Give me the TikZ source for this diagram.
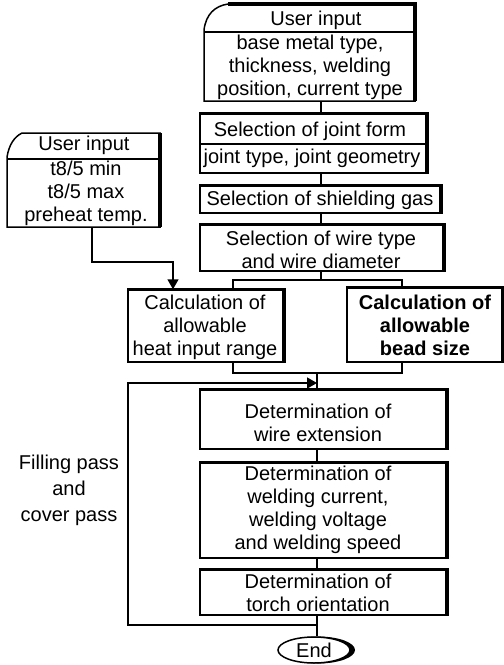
\documentclass[tikz,border=0pt]{standalone}
\usepackage{fontspec}
\setmainfont{Liberation Sans}
\usetikzlibrary{arrows.meta,shapes.geometric}
\begin{document}
\begin{tikzpicture}[x=1pt,y=-1pt,
  txt/.style={font=\fontsize{20}{23}\selectfont, align=center, inner sep=0pt},
  btxt/.style={txt, font=\fontsize{20}{23}\selectfont\bfseries},
  box/.style={draw, line width=1.5pt, inner sep=0pt, minimum width=#1},
  hole/.style={inner sep=0pt, minimum width=#1},
  thk/.style={line width=3.5pt},
  ln/.style={line width=1.5pt},
  arr/.style={ln, -{Triangle[length=10pt,width=11pt]}}]
\useasboundingbox (0,0) rectangle (504,665);
% spines
\coordinate (sp) at (321,0);
\coordinate (sp2) at (317,0);
\coordinate (xL) at (233,0);
\coordinate (xR) at (402,0);
\coordinate (xA) at (92,0);
\coordinate (xB) at (173,0);
% top user input box
\node[hole=211, minimum height=97] (b1) at (309.5,52.5) {};
\draw[ln] (204,101) -- (204,30) .. controls (206,14) and (215,6) .. (228,4) -- (415,4) -- (415,101) -- cycle;
\draw[ln] (204,32) -- (415,32);
\draw[thk] (228,4) -- (415,4) -- (415,101);
\node[txt] (t1h) at (316,20) {User input};
\node[txt] (t1) at (310,67) {base metal type,\\thickness, welding\\position, current type};
% joint form
\node[box=226, minimum height=59] (b2) at (313,143.5) {};
\draw[ln] (b2.west |- 0,144) -- (b2.east |- 0,144);
\node[txt] (t2h) at (310,131) {Selection of joint form};
\node[txt] (t2) at (312,158) {joint type, joint geometry};
% shielding gas
\node[box=240, minimum height=27] (b3) at (320,199.5) {};
\node[txt] (t3) at (320,200) {Selection of shielding gas};
% wire type
\node[box=243, minimum height=46] (b4) at (321.5,248) {};
\node[txt] (t4) at (321,250) {Selection of wire type\\and wire diameter};
% left user input
\node[hole=153, minimum height=94] (L) at (83.5,180) {};
\draw[ln] (7,227) -- (7,157) .. controls (9,145) and (14,137) .. (22,133) -- (160,133) -- (160,227) -- cycle;
\draw[ln] (7,159) -- (160,159);
\draw[thk] (160,133) -- (160,227);
\node[txt] (tLh) at (84,145) {User input};
\node[txt] (tL) at (86,193) {t8/5 min\\t8/5 max\\preheat temp.};
% calculation boxes
\node[box=155, minimum height=72] (cL) at (205.5,326) {};
\node[txt] (tcL) at (205,327) {Calculation of\\allowable\\heat input range};
\node[box=155, minimum height=74] (cR) at (424.5,325) {};
\node[btxt] (tcR) at (425,325) {Calculation of\\allowable\\bead size};
% lower boxes
\node[box=246, minimum height=59] (w) at (323,419.5) {};
\node[txt] (tw) at (318,422.5) {Determination of\\wire extension};
\node[box=246, minimum height=95] (wc) at (323,510.5) {};
\node[txt] (twc) at (318,510) {Determination of\\welding current,\\welding voltage\\and welding speed};
\node[box=246, minimum height=45] (tor) at (323,592.5) {};
\node[txt] (ttor) at (318,593) {Determination of\\torch orientation};
% end
\node[ellipse, fill=black, inner sep=0pt, minimum width=74, minimum height=27] (endsh) at (318,650) {};
\node[ellipse, draw, ln, fill=white, inner sep=0pt, minimum width=72, minimum height=26, font=\fontsize{20}{23}\selectfont] (end) at (314,650) {End};
% side label
\node[txt, font=\fontsize{20}{26}\selectfont] (fill) at (69,490) {Filling pass\\and\\cover pass};
% thick shadow edges
\foreach \n in {b2,b3,b4,cL,cR,w,wc,tor}
  \draw[thk] (\n.north west) -- (\n.north east) -- (\n.south east);
% connectors
\draw[ln] (b1.south -| sp) -- (b2.north -| sp);
\draw[ln] (b2.south -| sp) -- (b3.north -| sp);
\draw[ln] (b3.south -| sp) -- (b4.north -| sp);
\coordinate (j1) at (321,280);
\draw[ln] (b4.south -| sp) -- (j1);
\draw[ln] (cL.north -| xL) |- (j1) -| (cR.north -| xR);
\coordinate (bend) at (92,262);
\draw[arr] (L.south -| xA) -- (bend) -| (cL.north -| xB);
\coordinate (j2) at (317,373);
\draw[ln] (cL.south -| xL) |- (j2) -| (cR.south -| xR);
\draw[ln] (j2) -- (w.north -| sp2);
\draw[ln] (w.south -| sp2) -- (wc.north -| sp2);
\draw[ln] (wc.south -| sp2) -- (tor.north -| sp2);
\draw[ln] (tor.south -| sp2) -- (end.north -| sp2);
\coordinate (lb) at (317,625);
\coordinate (ld) at (128,383);
\coordinate (la) at (317,383);
\draw[arr] (lb) -| (ld) -- (la);
\end{tikzpicture}
\end{document}
